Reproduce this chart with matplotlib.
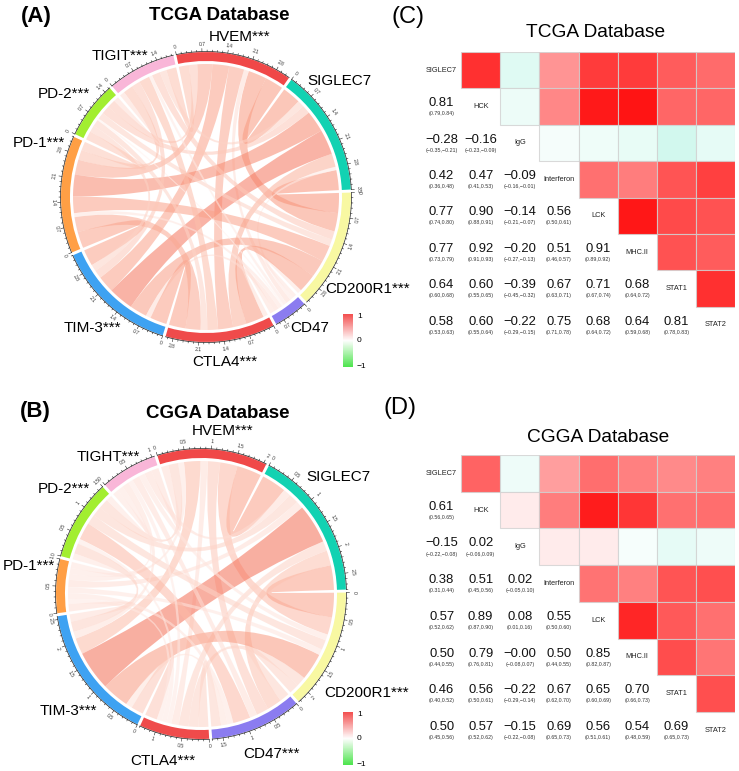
import numpy as np
import matplotlib
matplotlib.use('Agg')
import matplotlib.pyplot as plt
from matplotlib.path import Path
from matplotlib.patches import PathPatch, Wedge, Rectangle
from matplotlib.colors import LinearSegmentedColormap

plt.rcParams['font.family'] = ['Liberation Sans', 'DejaVu Sans']

# ---------------- data ----------------
sector_colors = ["#f04848", "#12d2b2", "#f8f8a2", "#8b7cf0", "#ef4b4b",
                 "#3ea2f2", "#ff9f45", "#a2ee30", "#f9b6d8"]

labels_A = ["HVEM***", "SIGLEC7", "CD200R1***", "CD47", "CTLA4***",
            "TIM-3***", "PD-1***", "PD-2***", "TIGIT***"]
# upper triangle of link strengths (order as labels_A)
links_A = [
    [0.55, 0.55, 0.15, 0.45, 0.50, 0.45, 0.25, 0.30],
    [0.60, 0.10, 0.40, 0.75, 0.65, 0.25, 0.20],
    [0.12, 0.55, 0.52, 0.50, 0.20, 0.25],
    [0.14, 0.15, 0.12, 0.06, 0.10],
    [0.50, 0.45, 0.20, 0.32],
    [0.49, 0.20, 0.25],
    [0.26, 0.30],
    [0.15],
]

labels_B = ["HVEM***", "SIGLEC7", "CD200R1***", "CD47***", "CTLA4***",
            "TIM-3***", "PD-1***", "PD-2***", "TIGHT***"]
links_B = [
    [0.50, 0.35, 0.25, 0.15, 0.33, 0.12, 0.20, 0.15],
    [0.50, 0.30, 0.20, 0.80, 0.15, 0.20, 0.15],
    [0.20, 0.20, 0.55, 0.12, 0.20, 0.12],
    [0.20, 0.13, 0.12, 0.35, 0.15],
    [0.25, 0.10, 0.10, 0.10],
    [0.15, 0.21, 0.14],
    [0.12, 0.12],
    [0.12],
]

vars_corr = ["SIGLEC7", "HCK", "IgG", "Interferon", "LCK", "MHC.II", "STAT1", "STAT2"]

r_C = [
    [],
    [0.81],
    [-0.28, -0.16],
    [0.42, 0.47, -0.09],
    [0.77, 0.90, -0.14, 0.56],
    [0.77, 0.92, -0.20, 0.51, 0.91],
    [0.64, 0.60, -0.39, 0.67, 0.71, 0.68],
    [0.58, 0.60, -0.22, 0.75, 0.68, 0.64, 0.81],
]
ci_C = [
    [],
    ["(0.79,0.84)"],
    ["(-0.35,-0.21)", "(-0.23,-0.09)"],
    ["(0.36,0.48)", "(0.41,0.53)", "(-0.16,-0.01)"],
    ["(0.74,0.80)", "(0.88,0.91)", "(-0.21,-0.07)", "(0.50,0.61)"],
    ["(0.73,0.79)", "(0.91,0.93)", "(-0.27,-0.13)", "(0.46,0.57)", "(0.89,0.92)"],
    ["(0.60,0.68)", "(0.55,0.65)", "(-0.45,-0.32)", "(0.63,0.71)", "(0.67,0.74)", "(0.64,0.72)"],
    ["(0.53,0.63)", "(0.55,0.64)", "(-0.29,-0.15)", "(0.71,0.78)", "(0.64,0.72)", "(0.59,0.68)", "(0.78,0.83)"],
]
r_D = [
    [],
    [0.61],
    [-0.15, 0.02],
    [0.38, 0.51, 0.02],
    [0.57, 0.89, 0.08, 0.55],
    [0.50, 0.79, -0.0, 0.50, 0.85],
    [0.46, 0.56, -0.22, 0.67, 0.65, 0.70],
    [0.50, 0.57, -0.15, 0.69, 0.56, 0.54, 0.69],
]
ci_D = [
    [],
    ["(0.56,0.65)"],
    ["(-0.22,-0.08)", "(-0.06,0.09)"],
    ["(0.31,0.44)", "(0.45,0.56)", "(-0.05,0.10)"],
    ["(0.52,0.62)", "(0.87,0.90)", "(0.01,0.16)", "(0.50,0.60)"],
    ["(0.44,0.55)", "(0.76,0.81)", "(-0.08,0.07)", "(0.44,0.55)", "(0.82,0.87)"],
    ["(0.40,0.52)", "(0.50,0.61)", "(-0.29,-0.14)", "(0.62,0.70)", "(0.60,0.69)", "(0.66,0.73)"],
    ["(0.45,0.56)", "(0.52,0.62)", "(-0.22,-0.08)", "(0.65,0.73)", "(0.51,0.61)", "(0.48,0.59)", "(0.65,0.73)"],
]

# ---------------- figure ----------------
W, H = 739, 771
fig = plt.figure(figsize=(W / 100, H / 100), dpi=100)


def px_axes(x0, y0, w, h):
    return fig.add_axes([x0 / W, 1 - (y0 + h) / H, w / W, h / H])


def ftext(x, y, s, **kw):
    fig.text(x / W, 1 - y / H, s, **kw)


link_cmap = LinearSegmentedColormap.from_list(
    "lk", [(0, "#ffffff"), (0.25, "#fdc8b8"), (0.55, "#f99a80"), (1.0, "#f04a32")])
legend_cmap = LinearSegmentedColormap.from_list(
    "lg", ["#3ae23a", "#ffffff", "#f23c3c"])


def P(r, deg):
    t = np.deg2rad(deg)
    return (r * np.cos(t), r * np.sin(t))


def ribbon(ax, r, a0, a1, b0, b1, color):
    verts, codes = [], []
    for k, t in enumerate(np.linspace(a0, a1, 24)):
        verts.append(P(r, t))
        codes.append(Path.MOVETO if k == 0 else Path.LINETO)
    verts += [(0, 0), P(r, b0)]
    codes += [Path.CURVE3, Path.CURVE3]
    for t in np.linspace(b0, b1, 24)[1:]:
        verts.append(P(r, t))
        codes.append(Path.LINETO)
    verts += [(0, 0), P(r, a0)]
    codes += [Path.CURVE3, Path.CURVE3]
    verts.append(P(r, a0))
    codes.append(Path.CLOSEPOLY)
    ax.add_patch(PathPatch(Path(verts, codes), fc=color, ec='none', alpha=0.55, zorder=1))


def chord(ax, upper, start_deg, step, gap=1.2, r_out=145, r_in=136, r_link=133):
    n = len(upper) + 1
    M = np.zeros((n, n))
    for i, row in enumerate(upper):
        for k, v in enumerate(row):
            j = i + 1 + k
            M[i, j] = M[j, i] = v
    tot = M.sum(1)
    dpu = (360 - n * gap) / tot.sum()
    sec = []
    a = start_deg
    for i in range(n):
        sec.append((a, a - tot[i] * dpu))
        a = a - tot[i] * dpu - gap
    # link positions
    pos = {}
    for i in range(n):
        a = sec[i][0]
        for k in range(1, n):
            j = (i - k) % n
            w = M[i, j] * dpu
            pos[(i, j)] = (a, a - w)
            a -= w
    for i in range(n):
        for j in range(i + 1, n):
            a0, a1 = pos[(i, j)]
            b0, b1 = pos[(j, i)]
            ribbon(ax, r_link, a0, a1, b0, b1, link_cmap(M[i, j]))
    # tracks and axes
    minor = step / 5
    for i in range(n):
        a0, a1 = sec[i]
        ax.add_patch(Wedge((0, 0), r_out, a1, a0, width=r_out - r_in,
                           fc=sector_colors[i], ec='none', zorder=2))
        th = np.linspace(a0, a1, 60)
        xs, ys = zip(*[P(r_out + 0.5, t) for t in th])
        ax.plot(xs, ys, color='#222222', lw=0.5, zorder=3)
        nk = int(np.floor(tot[i] / minor + 1e-6))
        for k in range(nk + 1):
            t = a0 - k * minor * dpu
            major = (k % 5 == 0)
            L = 3.0 if major else 1.5
            p1 = P(r_out + 0.5, t)
            p2 = P(r_out + 0.5 + L, t)
            ax.plot([p1[0], p2[0]], [p1[1], p2[1]], color='#222222', lw=0.4, zorder=3)
            if major:
                val = round(k * minor, 2)
                tn = t % 360
                rot = tn - 90 if tn <= 180 else tn + 90
                px, py = P(r_out + 8, t)
                ax.text(px, py, f"{val:g}", fontsize=3.6, ha='center', va='center',
                        rotation=rot, color='#333333', zorder=3)


# ---- chord panels ----
axA = px_axes(0, 0, 380, 390)
axA.set_xlim(-206, 174); axA.set_ylim(-193, 197); axA.axis('off')
chord(axA, links_A, 101.8, 0.7)

axB = px_axes(0, 390, 380, 381)
axB.set_xlim(-201, 179); axB.set_ylim(-177, 204); axB.axis('off')
chord(axB, links_B, 107.5, 0.5)

lab_fs = 11
posA = [(240, 37, 'center'), (307, 81, 'left'), (325, 289, 'left'), (290, 328, 'left'),
        (225, 362, 'center'), (92, 328, 'center'), (39, 143, 'center'),
        (64, 94, 'center'), (120, 56, 'center')]
posB = [(223, 431, 'center'), (306, 477, 'left'), (324, 693, 'left'), (271, 754, 'center'),
        (163, 761, 'center'), (68, 711, 'center'), (29, 566, 'center'),
        (64, 489, 'center'), (108, 457, 'center')]
for s, (x, y, ha) in zip(labels_A, posA):
    ftext(x, y, s, fontsize=lab_fs, ha=ha, va='center')
for s, (x, y, ha) in zip(labels_B, posB):
    ftext(x, y, s, fontsize=lab_fs, ha=ha, va='center')

ftext(36, 16.5, "(A)", fontsize=16, fontweight='bold', ha='center', va='center')
ftext(219, 15.5, "TCGA Database", fontsize=13.5, fontweight='bold', ha='center', va='center')
ftext(35, 411, "(B)", fontsize=16, fontweight='bold', ha='center', va='center')
ftext(218, 414, "CGGA Database", fontsize=13.5, fontweight='bold', ha='center', va='center')
ftext(408, 17, "(C)", fontsize=17, ha='center', va='center')
ftext(596, 32.5, "TCGA Database", fontsize=13.8, ha='center', va='center')
ftext(400, 408, "(D)", fontsize=17, ha='center', va='center')
ftext(598, 438, "CGGA Database", fontsize=13.8, ha='center', va='center')

# ---- legends ----
grad = np.linspace(1, -1, 100).reshape(-1, 1)
for (x0, y0) in [(343, 314), (343, 712)]:
    lax = px_axes(x0, y0, 10, 53)
    lax.imshow(grad, cmap=legend_cmap, vmin=-1, vmax=1, aspect='auto', alpha=0.9)
    lax.axis('off')
    ftext(x0 + 14, y0 + 2, "1", fontsize=6, ha='left', va='center')
    ftext(x0 + 14, y0 + 27, "0", fontsize=6, ha='left', va='center')
    ftext(x0 + 14, y0 + 52, "\u22121", fontsize=6, ha='left', va='center')


# ---- correlation matrices ----
def cell_color(v):
    e = max(abs(v), 0.08)
    if np.signbit(v):
        neg = np.array([140, 238, 212]) / 255
        c = 1 - e * (1 - neg)
        return tuple(c)
    return (1, 1 - e, 1 - e)


def fmt(v):
    return f"{v:.2f}".replace('-', '\u2212')


def corr_panel(ax, names, R, CI):
    n = len(names)
    ax.set_xlim(0, n); ax.set_ylim(n, 0); ax.axis('off')
    for i in range(n):
        ax.text(i + 0.5, i + 0.5, names[i], ha='center', va='center', fontsize=5.3, color='#222222')
        for j in range(n):
            if j > i:
                v = R[j][i]
                ax.add_patch(Rectangle((j, i), 1, 1, fc=cell_color(v),
                                       ec=(0.82, 0.82, 0.82, 0.8), lw=0.8))
            elif j < i:
                v = R[i][j]
                ax.text(j + 0.5, i + 0.41, fmt(v), ha='center', va='center', fontsize=9.4, color='#111111')
                ax.text(j + 0.5, i + 0.70, CI[i][j].replace('-', '\u2212'), ha='center', va='center',
                        fontsize=3.8, color='#333333')


axC = px_axes(422, 52, 313, 291)
corr_panel(axC, vars_corr, r_C, ci_C)
axD = px_axes(422, 455, 313, 293.6)
corr_panel(axD, vars_corr, r_D, ci_D)

fig.savefig("out.png", dpi=100)
